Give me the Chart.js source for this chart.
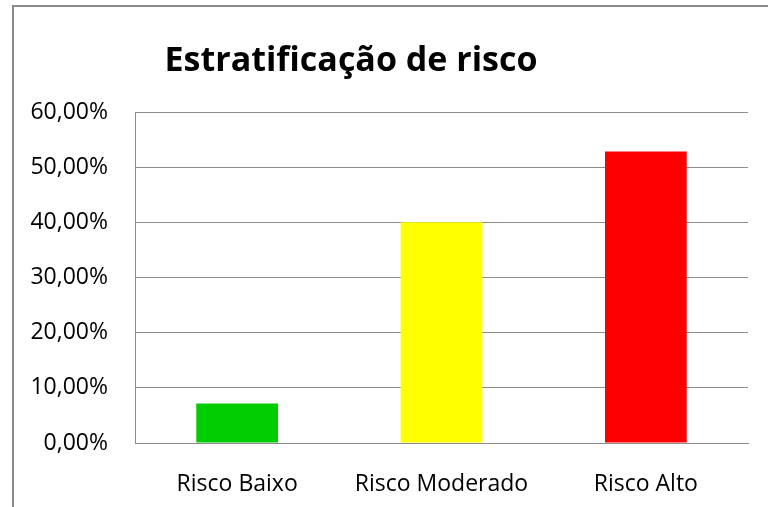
<!DOCTYPE html>
<html>
<head>
<meta charset="utf-8">
<script src="https://cdn.jsdelivr.net/npm/chart.js@4.4.1/dist/chart.umd.min.js"></script>
<style>
  html, body { margin: 0; padding: 0; background: #fff; }
  #wrap { position: relative; width: 768px; height: 507px; overflow: hidden; }
  #frame { position: absolute; left: 12px; top: 5px; width: 760px; height: 510px;
           border-top: 2px solid #8a8a8a; border-left: 2px solid #8a8a8a; pointer-events: none; }
</style>
</head>
<body>
<div id="wrap">
  <canvas id="risco-chart" width="768" height="507"></canvas>
  <div id="frame"></div>
</div>
<script>
var chartTitle = "Estratificação de risco";
var categories = ["Risco Baixo", "Risco Moderado", "Risco Alto"];
var values = [0.0714, 0.40, 0.5286];
var barColors = ["#00cc00", "#ffff00", "#ff0000"];
var tickLabels = ["0,00%", "10,00%", "20,00%", "30,00%", "40,00%", "50,00%", "60,00%"];

// title drawn left of centre, like the original sheet
var titlePlugin = {
    id: 'sheetTitle',
    afterDraw: function (chart) {
        var c = chart.ctx;
        c.save();
        c.font = "bold 34px 'Open Sans'";
        c.fillStyle = "#000";
        c.textAlign = "center";
        c.textBaseline = "alphabetic";
        c.fillText(chartTitle, 351, 71);
        c.restore();
    }
};

var ctx = document.getElementById("risco-chart");

var myChart = new Chart(ctx, {
    type: 'bar',
    data: {
        labels: categories,
        datasets: [{
            data: values,
            backgroundColor: barColors,
            barPercentage: 0.4,
            categoryPercentage: 1.0
        }]
    },
    options: {
        responsive: false,
        animation: false,
        layout: { padding: { top: 112, right: 20, left: 0, bottom: 0 } },
        plugins: {
            legend: { display: false },
            tooltip: { enabled: false }
        },
        scales: {
            x: {
                grid: { display: false },
                border: { display: true, color: '#8c8c8c', width: 1 },
                ticks: {
                    color: '#000',
                    padding: 20,
                    font: { family: 'Open Sans', size: 23 }
                },
                afterFit: function (scale) { scale.height = 64; }
            },
            y: {
                min: 0,
                max: 0.6,
                ticks: {
                    stepSize: 0.1,
                    color: '#000',
                    padding: 27,
                    font: { family: 'Open Sans', size: 23 },
                    callback: function (value, index) { return tickLabels[index]; }
                },
                grid: { color: '#8c8c8c', lineWidth: 1, drawTicks: false },
                border: { display: true, color: '#8c8c8c', width: 1 },
                afterFit: function (scale) { scale.width = 135; }
            }
        }
    },
    plugins: [titlePlugin]
});
</script>
</body>
</html>
